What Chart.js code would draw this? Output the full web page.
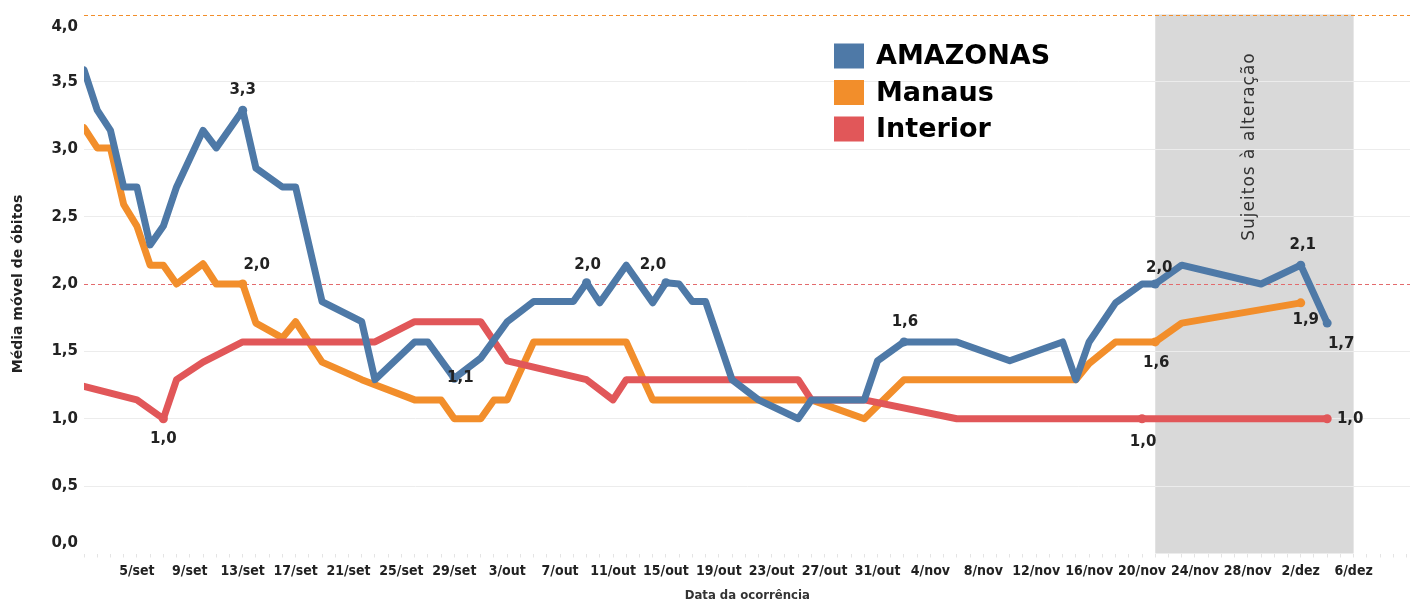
<!DOCTYPE html>
<html lang="pt-br">
<head>
<meta charset="UTF-8">
<title>Média móvel de óbitos</title>
<script src="https://cdn.jsdelivr.net/npm/chart.js"></script>
<style>
  html, body { margin: 0; background: #fff; overflow: hidden; }
  /* 5px a mais: o Chart.js reserva essa folga à direita da área do gráfico */
  .graph-container { width: 1415px; height: 603px; }
</style>
</head>
<body>
<div class="graph-container"><canvas id="grafico"></canvas></div>
<script>
// dias contados a partir de 1/set (0 = 1/set)
const amazonasDias = [0, 1, 2, 3, 4, 5, 6, 7, 9, 10, 12, 13, 15, 16, 18, 21, 22, 25, 26, 28, 30, 32, 34, 37, 38, 39, 41, 43, 44, 45, 46, 47, 49, 51, 54, 55, 59, 60, 62, 66, 70, 74, 75, 76, 78, 80, 81, 83, 89, 92, 94];
const amazonasValores = [3.59, 3.29, 3.14, 2.72, 2.72, 2.29, 2.43, 2.72, 3.14, 3.01, 3.29, 2.86, 2.72, 2.72, 1.87, 1.72, 1.29, 1.57, 1.57, 1.30, 1.45, 1.72, 1.87, 1.87, 2.01, 1.86, 2.14, 1.86, 2.01, 2.0, 1.87, 1.87, 1.29, 1.14, 1.0, 1.14, 1.14, 1.43, 1.57, 1.57, 1.43, 1.57, 1.29, 1.57, 1.86, 2.0, 2.0, 2.14, 2.0, 2.14, 1.71];

const manausDias = [0, 1, 2, 3, 4, 5, 6, 7, 9, 10, 12, 13, 15, 16, 18, 21, 25, 27, 28, 30, 31, 32, 34, 41, 43, 55, 59, 62, 75, 76, 78, 81, 83, 92];
const manausValores = [3.16, 3.01, 3.01, 2.59, 2.43, 2.14, 2.14, 2.0, 2.15, 2.0, 2.0, 1.71, 1.60, 1.72, 1.42, 1.29, 1.14, 1.14, 1.0, 1.0, 1.14, 1.14, 1.57, 1.57, 1.14, 1.14, 1.0, 1.29, 1.29, 1.41, 1.57, 1.57, 1.71, 1.86];

const interiorDias = [0, 4, 6, 7, 9, 12, 22, 25, 30, 32, 38, 40, 41, 54, 55, 59, 66, 80, 94];
const interiorValores = [1.24, 1.14, 1.0, 1.29, 1.42, 1.57, 1.57, 1.72, 1.72, 1.43, 1.29, 1.14, 1.29, 1.29, 1.14, 1.14, 1.0, 1.0, 1.0];

// rótulos de valores mostrados no gráfico (dia: texto)
const amazonasNotas = {12: '3,3', 28: '1,1', 38: '2,0', 44: '2,0', 62: '1,6', 81: '2,0', 92: '2,1', 94: '1,7'};
const manausNotas = {12: '2,0', 81: '1,6', 92: '1,9'};
const interiorNotas = {6: '1,0', 80: '1,0', 94: '1,0'};

const tickDias = [4, 8, 12, 16, 20, 24, 28, 32, 36, 40, 44, 48, 52, 56, 60, 64, 68, 72, 76, 80, 84, 88, 92, 96];
const tickRotulos = ['5/set', '9/set', '13/set', '17/set', '21/set', '25/set', '29/set', '3/out', '7/out', '11/out', '15/out', '19/out', '23/out', '27/out', '31/out', '4/nov', '8/nov', '12/nov', '16/nov', '20/nov', '24/nov', '28/nov', '2/dez', '6/dez'];

const yValores = [0, 0.5, 1, 1.5, 2, 2.5, 3, 3.5, 4];
const yRotulos = ['0,0', '0,5', '1,0', '1,5', '2,0', '2,5', '3,0', '3,5', '4,0'];

const linhaAlerta = 2.0;
const linhaTopo = 4.0;
const periodoInicio = 81;  // 21/nov
const periodoFim = 96;     // 6/dez

// onde cada rótulo fica em relação ao ponto [dx, dy]
const posicaoNotas = {
  AMAZONAS: {12: [0, -20], 28: [6, 0], 38: [1, -18], 44: [-13, -18], 62: [1, -20], 81: [4, -16], 92: [2, -20], 94: [14, 21]},
  Manaus: {12: [14, -19], 81: [1, 21], 92: [5, 17]},
  Interior: {6: [0, 20], 80: [1, 23], 94: [23, 0]}
};

const fonte = "'DejaVu Sans', sans-serif";
const fonteCondensada = "'DejaVu Sans Condensed', 'DejaVu Sans', sans-serif";

function pontos(dias, valores) {
  return dias.map((d, i) => ({x: d, y: valores[i]}));
}

const todosDias = [];
for (let d = 0; d <= 100; d++) todosDias.push(d);

const periodoCinza = {
  id: 'periodoCinza',
  beforeDraw(chart) {
    const {ctx, chartArea, scales: {x}} = chart;
    const x1 = x.getPixelForValue(periodoInicio);
    const x2 = x.getPixelForValue(periodoFim);
    ctx.save();
    ctx.fillStyle = '#d9d9d9';
    ctx.fillRect(x1, chartArea.top, x2 - x1, chartArea.bottom - chartArea.top);
    ctx.restore();
  },
  beforeDatasetsDraw(chart) {
    const {ctx, chartArea, scales: {x, y}} = chart;
    ctx.save();
    ctx.lineWidth = 1;
    ctx.setLineDash([4, 3]);
    ctx.strokeStyle = '#e36b6d';
    let yy = Math.round(y.getPixelForValue(linhaAlerta)) + 0.5;
    ctx.beginPath(); ctx.moveTo(chartArea.left, yy); ctx.lineTo(chartArea.right, yy); ctx.stroke();
    ctx.strokeStyle = '#f28e2b';
    yy = Math.round(y.getPixelForValue(linhaTopo)) + 0.5;
    ctx.beginPath(); ctx.moveTo(chartArea.left, yy); ctx.lineTo(chartArea.right, yy); ctx.stroke();
    ctx.setLineDash([]);

    // texto do período
    const cx = (x.getPixelForValue(periodoInicio) + x.getPixelForValue(periodoFim)) / 2 - 5;
    ctx.translate(cx, chartArea.top + 132);
    ctx.rotate(-Math.PI / 2);
    ctx.fillStyle = '#333';
    ctx.font = '17px ' + fonte;
    ctx.letterSpacing = '1px';
    ctx.textAlign = 'center';
    ctx.textBaseline = 'middle';
    ctx.fillText('Sujeitos à alteração', 0, 0);
    ctx.restore();
  },
  afterDatasetsDraw(chart) {
    const {ctx} = chart;
    ctx.save();
    ctx.font = 'bold 15px ' + fonte;
    ctx.fillStyle = '#222';
    ctx.textAlign = 'center';
    ctx.textBaseline = 'middle';
    chart.data.datasets.forEach((ds, i) => {
      const meta = chart.getDatasetMeta(i);
      const pos = posicaoNotas[ds.label];
      ds.data.forEach((p, j) => {
        const texto = ds.notas[p.x];
        if (!texto) return;
        const el = meta.data[j];
        const [dx, dy] = pos[p.x];
        ctx.fillText(texto, el.x + dx, el.y + dy);
      });
    });
    ctx.restore();
  },
  afterDraw(chart) {
    const {ctx, scales: {y}} = chart;
    ctx.save();
    // rótulos do eixo y (os extremos ficam para dentro, como no original)
    ctx.font = 'bold 15px ' + fonte;
    ctx.fillStyle = '#222';
    ctx.textAlign = 'right';
    ctx.textBaseline = 'middle';
    yValores.forEach((v, i) => {
      let yy = y.getPixelForValue(v);
      if (i === 0) yy -= 10;
      if (i === yValores.length - 1) yy += 13;
      ctx.fillText(yRotulos[i], 78, yy);
    });

    // legenda
    ctx.textAlign = 'left';
    ctx.font = 'bold 27px ' + fonte;
    chart.data.datasets.forEach((ds, i) => {
      const cy = 56 + i * 36.5;
      ctx.fillStyle = ds.borderColor;
      ctx.fillRect(834, cy - 12.5, 30, 25);
      ctx.fillStyle = '#000';
      ctx.fillText(ds.label, 876, cy + 1);
    });
    ctx.restore();
  }
};

function serie(label, dias, valores, notas, cor, ordem) {
  return {
    label: label,
    data: pontos(dias, valores),
    notas: notas,
    borderColor: cor,
    backgroundColor: cor,
    borderWidth: 7,
    borderJoinStyle: 'round',
    borderCapStyle: 'round',
    tension: 0,
    order: ordem,
    pointRadius: ctx => (ctx.raw && notas[ctx.raw.x]) ? 4.5 : 0,
    pointHoverRadius: 0,
    pointBorderWidth: 0
  };
}

new Chart(document.getElementById('grafico'), {
  type: 'line',
  data: {
    datasets: [
      serie('AMAZONAS', amazonasDias, amazonasValores, amazonasNotas, '#4e79a7', 0),
      serie('Manaus', manausDias, manausValores, manausNotas, '#f28e2b', 2),
      serie('Interior', interiorDias, interiorValores, interiorNotas, '#e15759', 1)
    ]
  },
  options: {
    responsive: true,
    maintainAspectRatio: false,
    animation: false,
    layout: { padding: { top: 14.5, right: 0, left: 0, bottom: 0 } },
    plugins: {
      legend: { display: false },
      tooltip: { enabled: false }
    },
    scales: {
      x: {
        type: 'linear',
        min: 0,
        max: 100.3,
        afterBuildTicks: scale => { scale.ticks = todosDias.map(d => ({value: d})); },
        afterFit: scale => { scale.height = 49.5; },
        border: { display: false },
        grid: { drawOnChartArea: false, drawTicks: true, tickLength: 4, color: '#e4e4e4' },
        ticks: {
          autoSkip: false,
          maxRotation: 0,
          padding: 5,
          color: '#222',
          font: { family: fonteCondensada, size: 14, weight: 'bold' },
          callback: v => {
            const k = tickDias.indexOf(v);
            return k >= 0 ? tickRotulos[k] : '';
          }
        },
        title: {
          display: true,
          text: 'Data da ocorrência',
          color: '#333',
          font: { family: fonteCondensada, size: 13, weight: 'bold' },
          padding: { top: 0, bottom: 0 }
        }
      },
      y: {
        min: 0,
        max: 4,
        afterFit: scale => { scale.width = 84; },
        border: { display: false },
        grid: {
          drawTicks: false,
          color: ctx => [0, linhaAlerta, linhaTopo].includes(ctx.tick.value) ? 'transparent' : '#ececec'
        },
        ticks: { stepSize: 0.5, display: false },
        title: {
          display: true,
          text: 'Média móvel de óbitos',
          color: '#222',
          font: { family: fonte, size: 14, weight: 'bold' },
          padding: { top: 10, bottom: 0 }
        }
      }
    }
  },
  plugins: [periodoCinza]
});
</script>
</body>
</html>
